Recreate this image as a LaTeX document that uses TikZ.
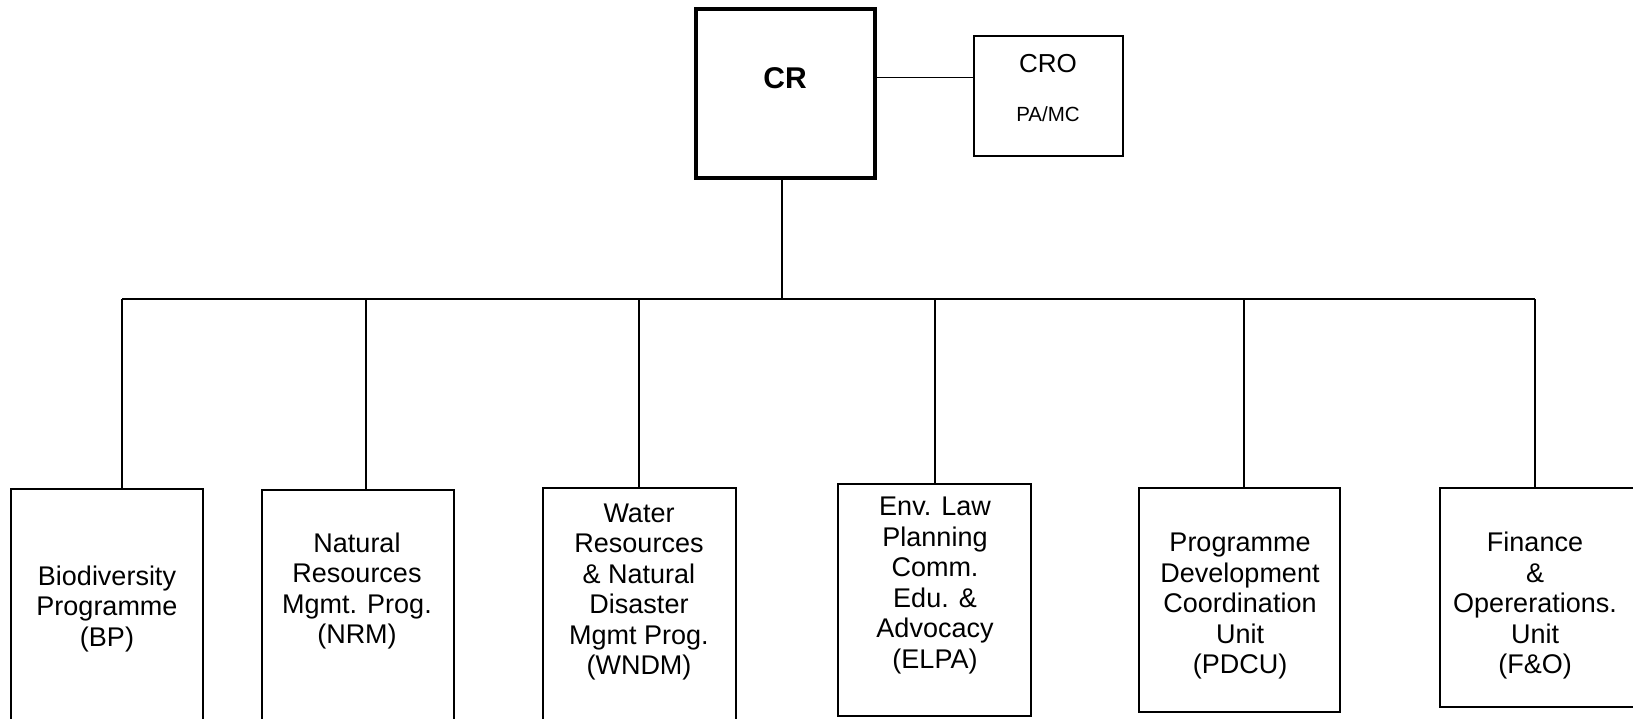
\documentclass[tikz,border=0pt]{standalone}
\usepackage{fontspec}
\setmainfont{Liberation Sans}
\begin{document}
\begin{tikzpicture}[x=1pt,y=-1pt,line width=1.4pt]
    \tikzstyle{unit}=[rectangle,draw=black,fill=white,inner sep=0pt]
    \tikzstyle{unittext}=[align=center,inner sep=0pt,font=\fontsize{27}{30.5}\selectfont]
    \useasboundingbox (0,0) rectangle (1633,718);

    % head and its office
    \node[unit,line width=4pt,minimum width=179pt,minimum height=169pt] (cr) at (785.5,93.5) {};
    \node[anchor=base,inner sep=0pt,font=\fontsize{30}{36}\selectfont\bfseries] (cr-txt) at (785,88) {CR};
    \node[unit,minimum width=149pt,minimum height=120pt] (cro) at (1048.5,96) {};
    \node[anchor=base,inner sep=0pt,font=\fontsize{26}{31}\selectfont] (cro-txt) at (1048,72) {CRO};
    \node[anchor=base,inner sep=0pt,font=\fontsize{20.5}{24}\selectfont] (pamc-txt) at (1048,121) {PA/MC};

    \draw (cr.east |- cr-txt) -- (cro.west |- cr-txt);

    % units
    \foreach \name/\x/\w/\top/\bot in {bp/107/192/489/760, nrm/358/192/490/760, wndm/639.5/193/488/760,
                                     elpa/934.5/193/484/716, pdcu/1239.5/201/488/712, fo/1540/200/488/707}
        \node[unit,minimum width=\w pt,minimum height={\bot-\top}] (\name) at ({\x},{(\top+\bot)/2}) {};

    \foreach \name/\x/\y/\txt in {bp/107/609/{Biodiversity\\Programme\\(BP)},
                                  nrm/357/591/{Natural\\Resources\\Mgmt. Prog.\\(NRM)},
                                  wndm/639/592/{Water\\Resources\\\& Natural\\Disaster\\Mgmt Prog.\\(WNDM)},
                                  elpa/935/585.5/{Env. Law\\Planning\\Comm.\\Edu. \&\\Advocacy\\(ELPA)},
                                  pdcu/1240/606/{Programme\\Development\\Coordination\\Unit\\(PDCU)},
                                  fo/1535/606/{Finance\\\&\\Opererations.\\Unit\\(F\&O)}}
        \node[unittext] (\name-txt) at (\x,\y) {\txt};

    % tree lines
    \coordinate (hub) at (782,299);
    \draw (cr.south -| hub) -- (hub);
    \foreach \name/\x in {bp/122, nrm/366, wndm/639, elpa/935, pdcu/1244, fo/1535} {
        \coordinate (drop-\name) at (\x,299);
        \draw (drop-\name) -- (drop-\name |- \name.north);
    }
    \draw (drop-bp) -- (drop-fo);
\end{tikzpicture}
\end{document}
